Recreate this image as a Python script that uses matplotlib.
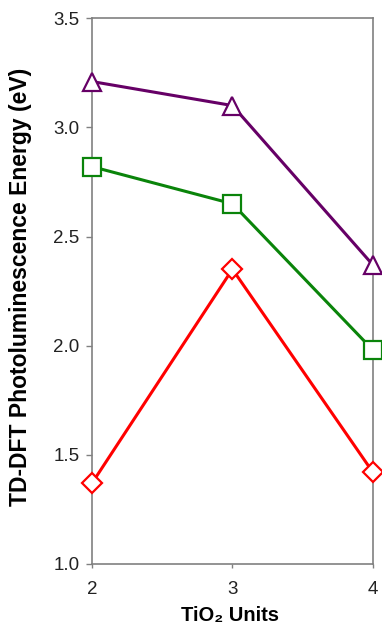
import matplotlib
matplotlib.use('Agg')
import matplotlib.pyplot as plt

# TiO2 cluster size vs TD-DFT photoluminescence energy
units = [2, 3, 4]
purple_vals = [3.21, 3.10, 2.37]
green_vals = [2.82, 2.65, 1.98]
red_vals = [1.37, 2.35, 1.42]

yticks = [1.0, 1.5, 2.0, 2.5, 3.0, 3.5]
fam = ['Liberation Sans', 'DejaVu Sans']

fig = plt.figure(figsize=(3.82, 6.30), dpi=100)
ax = fig.add_axes([0.241, 0.105, 0.735, 0.866])

ax.plot(units, purple_vals, color='#660066', lw=2.2, marker='^', ms=12.5,
        mfc='white', mec='#660066', mew=1.6, clip_on=False, zorder=3)
ax.plot(units, green_vals, color='#0a840a', lw=2.2, marker='s', ms=13,
        mfc='white', mec='#0a840a', mew=1.6, clip_on=False, zorder=3)
ax.plot(units, red_vals, color='#ff0000', lw=2.2, marker='D', ms=10,
        mfc='white', mec='#ff0000', mew=1.6, clip_on=False, zorder=3)

ax.set_xlim(2, 4)
ax.set_ylim(1.0, 3.5)
ax.set_xticks(units)
ax.set_xticklabels([str(u) for u in units], family=fam, fontsize=13.5, color='#222222')
ax.set_yticks(yticks)
ax.set_yticklabels(['%.1f' % v for v in yticks], family=fam, fontsize=13.5, color='#222222')

for s in ax.spines.values():
    s.set_color('#808080')
    s.set_linewidth(1.2)
ax.tick_params(axis='y', direction='out', length=4, width=1, color='#808080', pad=5)
ax.tick_params(axis='x', direction='out', length=3, width=1, color='#808080', pad=9)

ax.set_ylabel('TD-DFT Photoluminescence Energy (eV)', family=fam, fontsize=16.5,
              fontweight='bold')
ax.yaxis.set_label_coords(-0.215, 0.507)
ax.set_xlabel('TiO\u2082 Units', family=fam, fontsize=14.5, fontweight='bold')
ax.xaxis.set_label_coords(0.49, -0.077)

fig.savefig('out.png', dpi=100)
